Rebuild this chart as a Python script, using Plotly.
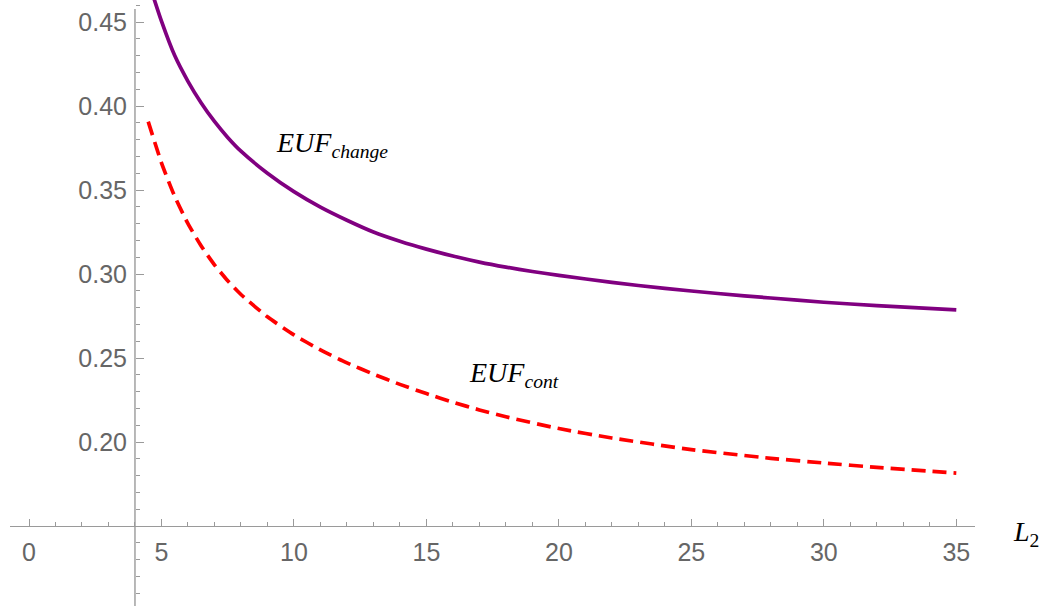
import plotly.graph_objects as go

# Data
l2_change = [4.5, 5, 5.5, 6, 6.5, 7, 7.5, 8, 9, 10, 11, 12, 13, 14, 15, 16, 17, 18, 19, 20,
             22, 24, 26, 28, 30, 32, 35]
euf_change = [0.4745, 0.4505, 0.4300, 0.4147, 0.4018, 0.3908, 0.3813, 0.3731, 0.3600, 0.3490,
              0.3398, 0.3320, 0.3250, 0.3195, 0.3148, 0.3107, 0.3071, 0.3041, 0.3015, 0.2992,
              0.2950, 0.2914, 0.2884, 0.2857, 0.2832, 0.2812, 0.2786]

l2_cont = [4.5, 5, 5.5, 6, 6.5, 7, 7.5, 8, 9, 10, 11, 12, 13, 14, 15, 16, 17, 18, 20,
           22, 25, 28, 30, 32, 35]
euf_cont = [0.3907, 0.3662, 0.3462, 0.3300, 0.3167, 0.3055, 0.2960, 0.2878, 0.2745, 0.2638,
            0.2548, 0.2471, 0.2404, 0.2343, 0.2288, 0.2237, 0.2191, 0.2150, 0.2080,
            0.2024, 0.1955, 0.1903, 0.1875, 0.1849, 0.1815]

x_ticks = [0, 5, 10, 15, 20, 25, 30, 35]
y_ticks = [0.20, 0.25, 0.30, 0.35, 0.40, 0.45]

AX = "#9a9a9a"
LBL = "#666666"

x_range = [-0.717, 35.706]
x_domain = [10 / 1046, 975 / 1046]
y_range = [0.10238, 0.46310]
x_cross, y_cross = 4.0, 0.15

xpos_paper = (y_cross - y_range[0]) / (y_range[1] - y_range[0])
ypos_paper = x_domain[0] + (x_cross - x_range[0]) / (x_range[1] - x_range[0]) * (x_domain[1] - x_domain[0])

fig = go.Figure()
fig.add_trace(go.Scatter(x=l2_change, y=euf_change, mode="lines",
                         line=dict(color="#800080", width=3.7, shape="spline", smoothing=0.6),
                         showlegend=False, hoverinfo="skip"))
fig.add_trace(go.Scatter(x=l2_cont, y=euf_cont, mode="lines",
                         line=dict(color="#ff0000", width=3.7, dash="14px,7px", shape="spline", smoothing=0.6),
                         showlegend=False, hoverinfo="skip"))

# y axis line
fig.add_shape(type="line", xref="x", yref="y", x0=x_cross, x1=x_cross,
              y0=y_range[0], y1=0.4577, line=dict(color=AX, width=1.4), layer="below")

fig.update_layout(
    width=1046, height=606,
    margin=dict(l=0, r=0, t=0, b=0),
    paper_bgcolor="white", plot_bgcolor="white",
    xaxis=dict(range=x_range, domain=x_domain, anchor="free", position=xpos_paper,
               side="bottom", showgrid=False, zeroline=False,
               showline=True, linecolor=AX, linewidth=1.4,
               tickmode="array", tickvals=x_ticks, ticks="inside", ticklen=7,
               tickcolor=AX, tickwidth=1.2, ticklabelstandoff=4,
               minor=dict(dtick=1, tick0=0, ticks="inside", ticklen=4, tickcolor=AX, tickwidth=1),
               tickfont=dict(family="Liberation Sans", size=25, color=LBL)),
    yaxis=dict(range=y_range, domain=[0, 1], anchor="free", position=ypos_paper,
               side="left", showgrid=False, zeroline=False, showline=False,
               tickmode="array", tickvals=y_ticks, tickformat=".2f",
               ticks="inside", ticklen=8, tickcolor=AX, tickwidth=1.2, ticklabelstandoff=8,
               minor=dict(dtick=0.01, tick0=0, ticks="inside", ticklen=4, tickcolor=AX, tickwidth=1),
               tickfont=dict(family="Liberation Sans", size=25, color=LBL)),
    annotations=[
        dict(x=9.25, y=0.377, xref="x", yref="y", xanchor="left", yanchor="middle",
             text="<i>EUF</i><sub><i>change</i></sub>", showarrow=False,
             font=dict(family="Liberation Serif", size=28, color="black")),
        dict(x=16.55, y=0.240, xref="x", yref="y", xanchor="left", yanchor="middle",
             text="<i>EUF</i><sub><i>cont</i></sub>", showarrow=False,
             font=dict(family="Liberation Serif", size=28, color="black")),
        dict(x=1011 / 1046, y=0.1195, xref="paper", yref="paper", xanchor="left", yanchor="middle",
             text="<i>L</i><sub>2</sub>", showarrow=False,
             font=dict(family="Liberation Serif", size=28, color="black")),
    ],
)

fig.write_html("out.html", config={"displayModeBar": False},
               post_script="document.body.style.margin='0';")
